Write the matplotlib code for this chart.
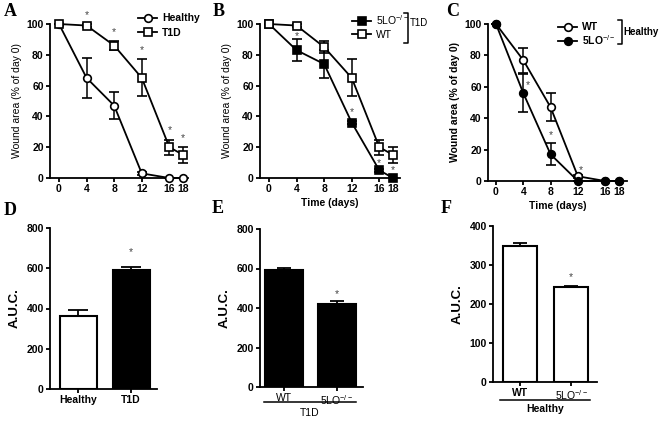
import numpy as np
import matplotlib
matplotlib.use("Agg")
import matplotlib.pyplot as plt
from matplotlib.lines import Line2D

plt.rcParams['font.family'] = ['Liberation Sans', 'DejaVu Sans']
plt.rcParams['mathtext.fontset'] = 'custom'
plt.rcParams['mathtext.rm'] = 'Liberation Sans'

# data
days = [0, 4, 8, 12, 16, 18]

a_healthy = [100, 65, 47, 3, 0, 0]
a_healthy_err = [0, 13, 9, 1, 0, 0]
a_t1d = [100, 99, 86, 65, 20, 15]
a_t1d_err = [0, 1, 3, 12, 5, 5]
a_stars = [4, 8, 12, 16, 18]

b_5lo = [100, 83, 74, 36, 5, 0]
b_5lo_err = [0, 7, 9, 1, 1, 0]
b_wt = [100, 99, 85, 65, 20, 15]
b_wt_err = [0, 1, 4, 12, 5, 5]
b_star_x = [4, 12, 16, 18]
b_star_y = [92, 43, 10, 5]

c_wt = [100, 77, 47, 3, 0, 0]
c_wt_err = [0, 8, 9, 1, 0, 0]
c_5lo = [100, 56, 17, 0, 0, 0]
c_5lo_err = [0, 12, 7, 0, 0, 0]
c_star_x = [4.6, 8, 12.4]
c_star_y = [61, 29, 7]

d_labels = ['Healthy', 'T1D']
d_auc = [362, 590]
d_err = [30, 17]

e_labels = ['WT', '5LO$^{-/-}$']
e_auc = [590, 418]
e_err = [15, 19]

f_labels = ['WT', '5LO$^{-/-}$']
f_auc = [350, 244]
f_err = [6, 3]

W, H = 660, 422
fig = plt.figure(figsize=(6.6, 4.22), dpi=100)


def px_axes(l, r, t, b):
    return fig.add_axes([l / W, 1 - b / H, (r - l) / W, (b - t) / H])


def fx(x):
    return x / W


def fy(y):
    return 1 - y / H


def style(ax):
    for s in ['top', 'right']:
        ax.spines[s].set_visible(False)
    for s in ['left', 'bottom']:
        ax.spines[s].set_linewidth(1.3)
    ax.tick_params(width=1.3, length=3, labelsize=7.5, pad=1.5)
    for lab in ax.get_xticklabels() + ax.get_yticklabels():
        lab.set_fontweight('bold')


def line_panel(ax, xl):
    ax.set_xlim(*xl)
    ax.set_ylim(0, 100)
    ax.set_xticks(days)
    ax.set_yticks([0, 20, 40, 60, 80, 100])
    style(ax)
    ax.set_ylabel('Wound area (% of day 0)', fontsize=7.5, labelpad=3)


lw = 1.3
ms = 5.5


def series(ax, y, err, marker, fill):
    ax.errorbar(days, y, yerr=err, color='black', lw=lw, marker=marker, ms=ms,
                mfc=fill, mec='black', mew=1.2, capsize=3.5, elinewidth=1.1,
                capthick=1.1, clip_on=False, zorder=3)


def stars(ax, xs, ys):
    for x, y in zip(xs, ys):
        ax.text(x, y, '*', ha='center', va='center', fontsize=7.5, color='#444')


# A
axA = px_axes(50, 188, 24, 178)
line_panel(axA, (-1.3, 18.7))
series(axA, a_healthy, a_healthy_err, 'o', 'white')
series(axA, a_t1d, a_t1d_err, 's', 'white')
stars(axA, a_stars, [a_t1d[i] + a_t1d_err[i] + 6 for i in range(1, 6)])
hA = [Line2D([], [], color='black', lw=lw, marker='o', ms=ms, mfc='white', mew=1.2),
      Line2D([], [], color='black', lw=lw, marker='s', ms=ms, mfc='white', mew=1.2)]
axA.legend(hA, ['Healthy', 'T1D'], loc='upper left', bbox_to_anchor=(fx(133), fy(8)),
           bbox_transform=fig.transFigure, frameon=False, borderpad=0,
           handlelength=1.8, handletextpad=0.5, labelspacing=0.45,
           prop={'size': 7.5, 'weight': 'bold'})

# B
axB = px_axes(260, 400, 24, 178)
line_panel(axB, (-1.3, 19.0))
series(axB, b_5lo, b_5lo_err, 's', 'black')
series(axB, b_wt, b_wt_err, 's', 'white')
stars(axB, b_star_x, b_star_y)
axB.set_xlabel('Time (days)', fontsize=7.5, fontweight='bold', labelpad=3)
hB = [Line2D([], [], color='black', lw=lw, marker='s', ms=ms, mfc='black', mew=1.2),
      Line2D([], [], color='black', lw=lw, marker='s', ms=ms, mfc='white', mew=1.2)]
axB.legend(hB, ['5LO$^{-/-}$', 'WT'], loc='upper left', bbox_to_anchor=(fx(347), fy(8)),
           bbox_transform=fig.transFigure, frameon=False, borderpad=0,
           handlelength=1.8, handletextpad=0.5, labelspacing=0.3,
           prop={'size': 7.5})

# C
axC = px_axes(488, 627, 24, 181)
line_panel(axC, (-1.17, 19.2))
series(axC, c_wt, c_wt_err, 'o', 'white')
series(axC, c_5lo, c_5lo_err, 'o', 'black')
stars(axC, c_star_x, c_star_y)
axC.set_xlabel('Time (days)', fontsize=7.5, fontweight='bold', labelpad=3)
axC.yaxis.label.set_fontweight('bold')
hC = [Line2D([], [], color='black', lw=lw, marker='o', ms=ms, mfc='white', mew=1.2),
      Line2D([], [], color='black', lw=lw, marker='o', ms=ms, mfc='black', mew=1.2)]
axC.legend(hC, ['WT', '5LO$^{-/-}$'], loc='upper left', bbox_to_anchor=(fx(553), fy(17)),
           bbox_transform=fig.transFigure, frameon=False, borderpad=0,
           handlelength=1.8, handletextpad=0.5, labelspacing=0.05,
           prop={'size': 7.5, 'weight': 'bold'})


def bracket(x, y0, y1):
    fig.add_artist(Line2D([fx(x - 4), fx(x), fx(x), fx(x - 4)],
                          [fy(y0), fy(y0), fy(y1), fy(y1)], color='black', lw=1.1))


bracket(408, 13, 43)
fig.text(fx(410), fy(23), 'T1D', fontsize=7, va='center', ha='left')
bracket(622, 20, 44)
fig.text(fx(623), fy(32), 'Healthy', fontsize=7, fontweight='bold', va='center', ha='left')


# bar panels
def bar_panel(ax, vals, errs, colors, labels, xl, ymax, yt, width, cap):
    x = np.arange(len(vals))
    ax.bar(x, vals, width=width, color=colors, edgecolor='black', linewidth=1.5, zorder=2)
    ax.errorbar(x, vals, yerr=[np.zeros(len(vals)), errs], fmt='none', ecolor='black',
                elinewidth=1.3, capsize=cap, capthick=1.3, zorder=1)
    ax.set_xlim(*xl)
    ax.set_ylim(0, ymax)
    ax.set_yticks(yt)
    ax.set_xticks(x)
    ax.set_xticklabels(labels)
    style(ax)
    ax.set_ylabel('A.U.C.', fontsize=9.5, fontweight='bold', labelpad=4)
    return x


axD = px_axes(50, 157, 228, 389)
bar_panel(axD, d_auc, d_err, ['white', 'black'], d_labels, (-0.53, 1.49), 800,
          [0, 200, 400, 600, 800], 0.7, 7)
axD.text(1, 680, '*', ha='center', va='center', fontsize=7.5, color='#444')

axE = px_axes(260, 363, 229, 387)
bar_panel(axE, e_auc, e_err, ['black', 'black'], e_labels, (-0.46, 1.49), 800,
          [0, 200, 400, 600, 800], 0.72, 5)
for lab in axE.get_xticklabels():
    lab.set_fontweight('normal')
axE.text(1, 470, '*', ha='center', va='center', fontsize=7.5, color='#444')
fig.add_artist(Line2D([fx(264), fx(356)], [fy(402), fy(402)], color='black', lw=1.1))
fig.text(fx(310), fy(413), 'T1D', fontsize=7.5, ha='center', va='center')

axF = px_axes(493, 597, 226, 382)
bar_panel(axF, f_auc, f_err, ['white', 'white'], f_labels, (-0.52, 1.5), 400,
          [0, 100, 200, 300, 400], 0.66, 5)
axF.get_xticklabels()[1].set_fontweight('normal')
axF.text(1, 268, '*', ha='center', va='center', fontsize=7.5, color='#444')
fig.add_artist(Line2D([fx(500), fx(590)], [fy(400), fy(400)], color='black', lw=1.1))
fig.text(fx(545), fy(409), 'Healthy', fontsize=7.5, fontweight='bold', ha='center', va='center')

# panel letters
for lab, x, y in [('A', 4, 3), ('B', 213, 3), ('C', 446, 3),
                  ('D', 4, 202), ('E', 212, 200), ('F', 441, 200)]:
    fig.text(fx(x), fy(y), lab, fontsize=13, fontweight='bold',
             family='Liberation Serif', va='top', ha='left')

fig.savefig('out.png', dpi=100)
